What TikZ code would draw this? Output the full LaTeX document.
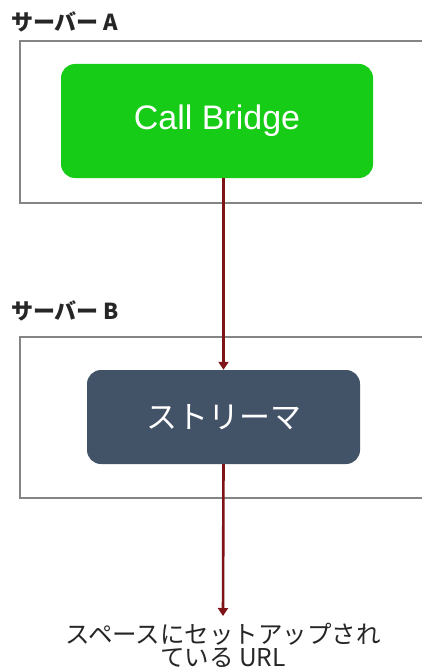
\documentclass[tikz,border=0pt]{standalone}
\usepackage{fontspec}
\setmainfont{Liberation Sans}
\newfontfamily\jp{Noto Sans CJK JP}
\usetikzlibrary{arrows.meta}
\definecolor{cbgreen}{HTML}{16CC16}
\definecolor{strslate}{HTML}{435367}
\definecolor{arrred}{HTML}{7E1318}
\definecolor{boxgray}{HTML}{858585}
\tikzset{
  server/.style={draw=boxgray, line width=2pt},
  comp/.style={rounded corners=14pt, inner sep=0pt, text=white},
  link/.style={draw=arrred, line width=2.6pt, -{Triangle[length=8pt,width=10pt]}},
  lab/.style={anchor=west, inner sep=0pt, font=\jp\bfseries\fontsize{22}{24}\selectfont, text=black!85}
}
\begin{document}
\begin{tikzpicture}[x=1pt,y=-1pt]
\useasboundingbox (0,0) rectangle (422,671);
\clip (0,0) rectangle (422,671);
\fill[white] (0,0) rectangle (422,671);
% server A
\node[lab] (la) at (11,22) {サーバー A};
\draw[server] (20,41) rectangle (440,203);
\node[comp, fill=cbgreen, minimum width=312pt, minimum height=114pt, font=\fontsize{34}{38}\selectfont] (cb) at (217,121) {Call Bridge};
% server B
\node[lab] (lb) at (11,311) {サーバー B};
\draw[server] (20,337) rectangle (440,498);
\node[comp, fill=strslate, minimum width=273pt, minimum height=94pt, font=\jp\fontsize{31}{34}\selectfont] (st) at (223.5,417) {ストリーマ};
% URL
\node[align=center, inner sep=0pt, font=\jp\fontsize{24.5}{23}\selectfont, text=black!85] (url) at (223,645) {スペースにセットアップされ\\ている URL};
\draw[link] (cb.south -| st) -- (st.north);
\draw[link] (st.south) -- (223,616);
\end{tikzpicture}
\end{document}
